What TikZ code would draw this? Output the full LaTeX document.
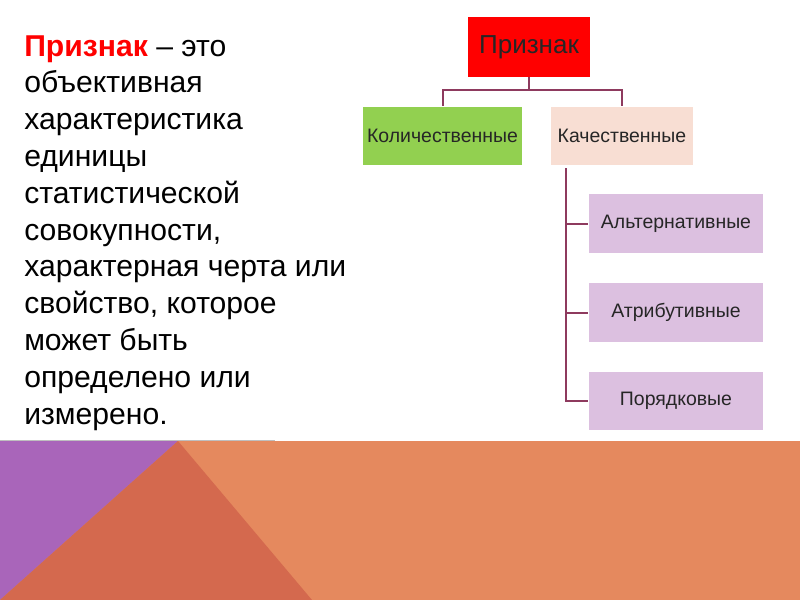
\documentclass[tikz,border=0pt]{standalone}
\usepackage{fontspec}
\setmainfont{Liberation Sans}
\definecolor{cpurple}{HTML}{A965BA}
\definecolor{cred}{HTML}{D4694E}
\definecolor{corange}{HTML}{E5895E}
\definecolor{cgreen}{HTML}{92D050}
\definecolor{cpeach}{HTML}{F8DED3}
\definecolor{clilac}{HTML}{DCC0E0}
\definecolor{cline}{HTML}{8E3A5E}
\begin{document}
\begin{tikzpicture}[x=0.75pt,y=-0.75pt,
  box/.style={draw=none,inner sep=0pt,font=\fontsize{14.6}{17}\selectfont,text=black!85},
  conn/.style={draw=cline,line width=1.5pt}]
\useasboundingbox (0,0) rectangle (800,600);
\fill[white] (0,0) rectangle (800,600);
% bottom band
\fill[corange] (0,441) rectangle (800,600);
\fill[cpurple] (0,441) -- (178,441) -- (0,600) -- cycle;
\fill[cred] (178,441) -- (312,600) -- (0,600) -- cycle;
\draw[black!25,line width=0.75pt] (0,440.5) -- (275,440.5);
% left text
\node[anchor=north west,inner sep=0pt,align=left,font=\fontsize{22.6}{27.6}\selectfont] (def) at (24,35)
{\textcolor{red}{\textbf{Признак}} – это\\
объективная\\
характеристика\\
единицы\\
статистической\\
совокупности,\\
характерная черта или\\
свойство, которое\\
может быть\\
определено или\\
измерено.};
% boxes
\node[box,fill=red,minimum width=91.5pt,minimum height=45pt,font=\fontsize{19.5}{22}\selectfont] (root) at (529,47) {Признак};
\node[box,fill=cgreen,minimum width=119pt,minimum height=44pt] (quant) at (442.5,136) {Количественные};
\node[box,fill=cpeach,minimum width=107pt,minimum height=44pt] (qual) at (622,136) {Качественные};
\node[box,fill=clilac,minimum width=131pt,minimum height=44pt] (alt) at (676,223.5) {Альтернативные};
\node[box,fill=clilac,minimum width=131pt,minimum height=44pt] (attr) at (676,312.5) {Атрибутивные};
\node[box,fill=clilac,minimum width=131pt,minimum height=44pt] (ord) at (676,401) {Порядковые};
% connectors
\coordinate (v) at (566,168);
\draw[conn] (root.south) -- ++(0,13) -| (quant.north);
\draw[conn] (root.south) -- ++(0,13) -| (qual.north);
\draw[conn] (v) |- (alt.west);
\draw[conn] (v) |- (attr.west);
\draw[conn] (v) |- (ord.west);
\end{tikzpicture}
\end{document}
